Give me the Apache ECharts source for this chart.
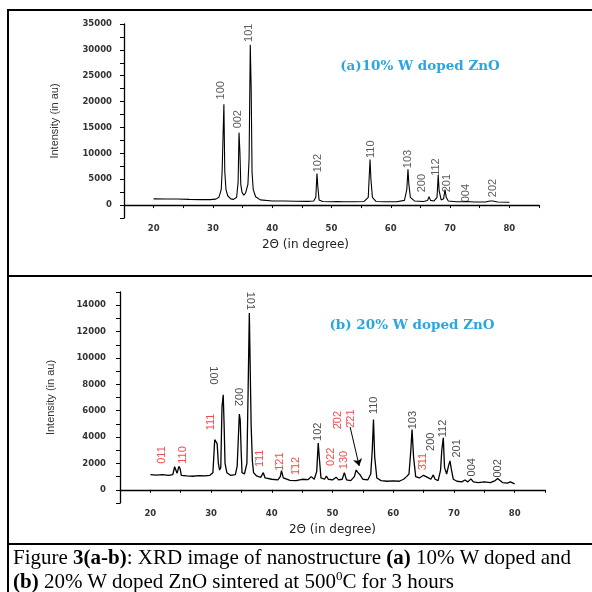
<!DOCTYPE html>
<html>
<head>
<meta charset="utf-8">
<script src="https://cdn.jsdelivr.net/npm/echarts@6/dist/echarts.min.js"></script>
<style>
    body { margin: 0; background: #fff; }
    #main { position: absolute; left: 0; top: 0; width: 592px; height: 592px; }
    #caption {
        position: absolute; left: 13px; top: 545px; width: 640px;
        font-family: 'Liberation Serif', 'Times New Roman', serif;
        font-size: 21px; line-height: 24px; color: #000; white-space: nowrap;
    }
    #caption sup { font-size: 13px; line-height: 0; }
</style>
</head>
<body>
<div id="main"></div>
<div id="caption">Figure <b>3(a-b)</b>: XRD image of nanostructure <b>(a)</b> 10% W doped and<br><b>(b)</b> 20% W doped ZnO sintered at 500<sup>0</sup>C for 3 hours</div>
<script>
// (a) 10% W 的衍射曲线：2θ 与强度
var anglesA = [20, 22, 24, 26, 28, 29.5, 30.5, 31.0, 31.4, 31.55, 31.7, 31.85, 32.0, 32.2, 32.5, 33.0, 33.5, 34.0,
    34.25, 34.4, 34.55, 34.7, 34.9, 35.2, 35.5, 35.9, 36.1, 36.3, 36.45, 36.6, 36.8, 37.2, 38, 40, 42, 44, 46,
    47.0, 47.35, 47.55, 47.7, 47.9, 48.5, 50, 51, 52, 54, 55.5, 56.2, 56.5, 56.65, 56.9, 57.5, 59, 61, 62.3,
    62.7, 62.9, 63.05, 63.3, 64, 65.5, 66.2, 66.45, 66.7, 67.3, 67.8, 68.0, 68.15, 68.5, 68.9, 69.15, 69.35,
    69.7, 71, 72.3, 72.6, 72.8, 74, 76, 76.7, 77.0, 77.2, 78, 80
];
var intensityA = [1200, 1180, 1170, 1100, 1050, 1050, 1150, 1500, 3000, 6500, 13000, 19500, 6500, 3000, 1800, 1200, 1100, 1500,
    4500, 14000, 10300, 4000, 2500, 1900, 2300, 4000, 9000, 31000, 22700, 6300, 3000, 1600, 1000, 800, 780, 750, 720,
    800, 1500, 6100, 3500, 1000, 700, 650, 700, 650, 650, 700, 1500, 8800, 5000, 1500, 700, 650, 650, 900,
    3000, 6900, 4000, 1500, 800, 700, 900, 1600, 900, 800, 1500, 5800, 2800, 1000, 1200, 3000, 1500,
    800, 650, 650, 950, 700, 600, 600, 800, 1100, 800, 600, 550
];

// (b) 20% W 的衍射曲线
var anglesB = [20, 21, 22, 23, 23.7, 24.0, 24.2, 24.4, 24.7, 24.9, 25.1, 26, 27, 28, 29, 29.8, 30.3, 30.6, 30.8, 31.0,
    31.2, 31.4, 31.6, 31.8, 32.0, 32.15, 32.3, 32.6, 33.2, 34.0, 34.3, 34.5, 34.65, 34.8, 34.95, 35.1, 35.5, 35.9,
    36.1, 36.3, 36.45, 36.6, 36.8, 37.0, 37.5, 38.2, 38.6, 38.9, 40, 41.0, 41.4, 41.6, 41.9, 43, 44, 45, 46, 46.5,
    47, 47.4, 47.65, 47.8, 48.1, 48.7, 49.0, 49.3, 50, 50.6, 51, 51.6, 51.95, 52.3, 53, 53.6, 53.9, 54.2, 54.6, 55,
    55.8, 56.3, 56.55, 56.75, 56.95, 57.3, 58, 59, 60, 61, 61.7, 62.2, 62.6, 62.9, 63.1, 63.35, 63.7, 64.3, 65.0,
    65.3, 65.8, 66.2, 66.6, 66.9, 67.4, 67.8, 68.0, 68.25, 68.45, 68.8, 69.1, 69.35, 69.6, 69.9, 70.5, 71.3, 71.8,
    72.3, 72.8, 73.2, 74, 75, 76, 76.8, 77.2, 77.6, 78, 78.8, 79.3, 79.6, 80
];
var intensityB = [1150, 1120, 1150, 1100, 1150, 1750, 1500, 1250, 1780, 1600, 1100, 1050, 1030, 1080, 1050, 1100, 1300, 3800, 3750, 3500,
    2000, 1500, 1700, 6300, 7200, 4900, 2000, 1300, 1100, 1150, 1800, 4000, 5750, 5300, 3000, 1300, 1200, 2000,
    7500, 13400, 13300, 4900, 2200, 1300, 1050, 950, 1300, 900, 800, 750, 1000, 1450, 900, 720, 700, 800, 780, 1000,
    800, 1400, 3550, 2600, 900, 800, 1050, 800, 750, 960, 750, 800, 1300, 750, 700, 1000, 1500, 1300, 1100, 800,
    750, 1200, 3000, 5330, 2500, 900, 700, 650, 680, 650, 800, 1000, 1200, 3000, 4570, 2500, 1000, 900, 1100,
    1130, 900, 800, 1130, 800, 700, 1500, 3000, 3940, 1700, 1200, 1800, 2190, 1500, 800, 650, 600, 750,
    600, 830, 600, 550, 600, 550, 700, 850, 700, 550, 500, 600, 500, 450
];

// 峰的晶面指数标注：名称、位置、高度
var peakNamesA = ['100', '002', '101', '102', '110', '103', '200', '112', '201', '004', '202'];
var peakAnglesA = [31.3, 34.3, 36.0, 47.7, 56.7, 62.95, 65.3, 67.7, 69.5, 72.7, 77.2];
var peakHeightsA = [22200, 16600, 33300, 8100, 10800, 8900, 4250, 7350, 4250, 2300, 3300];

var peakNamesB = ['100', '002', '101', '102', '110', '103', '200', '112', '201', '004', '002'];
var peakAnglesB = [30.36, 34.38, 36.4, 47.66, 56.84, 63.31, 66.23, 68.25, 70.46, 72.93, 77.31];
var peakHeightsB = [8670, 7040, 14330, 4400, 6410, 5280, 3640, 4650, 3140, 1710, 1630];

// WO3 的峰（红色）
var wo3Names = ['011', '110', '111', '1\u030411', '1\u030421', '1\u030412', '022', '130', '2\u030402', '2\u030421', '3\u030411'];
var wo3Angles = [21.86, 25.4, 29.98, 38.06, 41.35, 44.0, 49.7, 51.94, 50.95, 53.05, 64.96];
var wo3Heights = [2640, 2640, 5150, 2390, 2140, 1810, 2510, 2260, 5280, 5400, 2140];

// 刻度
var xTicks = [20, 30, 40, 50, 60, 70, 80];

var chart = echarts.init(document.getElementById('main'), null, { renderer: 'canvas' });

var zip = function(xs, ys) {
    return xs.map(function(x, i) {
        return [x, ys[i]];
    });
};

var labelItems = function(names, xs, ys) {
    return names.map(function(name, i) {
        return { name: name, value: [xs[i], ys[i]] };
    });
};

var narrowFont = 'Liberation Sans Narrow, Liberation Sans, sans-serif';

var tickFont = {
    fontFamily: 'DejaVu Sans',
    fontSize: 8.5,
    fontWeight: 'bold',
    color: '#333'
};

var makeXAxis = function(gridIndex, namePad) {
    return {
        gridIndex: gridIndex,
        type: 'value',
        min: 15,
        max: 85,
        interval: 5,
        name: '2\u0398 (in degree)',
        nameLocation: 'middle',
        nameGap: 21,
        nameTextStyle: {
            fontFamily: 'DejaVu Sans',
            fontSize: 12,
            color: '#222',
            padding: namePad
        },
        axisLine: { lineStyle: { color: '#000', width: 1.3 } },
        axisTick: { inside: false, length: 3, lineStyle: { color: '#000' } },
        splitLine: { show: false },
        axisLabel: Object.assign({
            margin: 6,
            showMinLabel: true,
            showMaxLabel: true,
            formatter: function(v) {
                return xTicks.indexOf(v) !== -1 ? String(v) : '';
            }
        }, tickFont)
    };
};

var makeYAxis = function(gridIndex, min, max, interval, step, margin) {
    return {
        gridIndex: gridIndex,
        type: 'value',
        min: min,
        max: max,
        interval: interval,
        name: 'Intensity (in au)',
        nameLocation: 'middle',
        nameGap: 64,
        nameTextStyle: {
            fontFamily: narrowFont,
            fontSize: 11,
            color: '#333'
        },
        axisLine: { show: true, lineStyle: { color: '#000', width: 1.3 } },
        axisTick: { show: true, inside: false, length: 4, lineStyle: { color: '#000' } },
        splitLine: { show: false },
        axisLabel: Object.assign({
            margin: margin,
            showMinLabel: true,
            showMaxLabel: true,
            formatter: function(v) {
                return (v >= 0 && v % step === 0) ? String(v) : '';
            }
        }, tickFont)
    };
};

var peakLabelSeries = function(index, names, xs, ys, color, rotate) {
    return {
        type: 'scatter',
        xAxisIndex: index,
        yAxisIndex: index,
        symbolSize: 0,
        silent: true,
        data: labelItems(names, xs, ys),
        label: {
            show: true,
            position: 'inside',
            formatter: '{b}',
            rotate: rotate,
            fontFamily: narrowFont,
            fontSize: 11,
            color: color
        }
    };
};

var titleStyle = {
    fontFamily: 'DejaVu Serif',
    fontWeight: 'bold',
    fontSize: 13.5,
    color: '#2ba6e0'
};

var option = {
    animation: false,
    backgroundColor: '#fff',
    title: [{
        text: '(a)10% W doped ZnO',
        left: 420,
        top: 59,
        textAlign: 'center',
        padding: 0,
        textStyle: titleStyle
    }, {
        text: '(b) 20% W doped ZnO',
        left: 412,
        top: 318,
        textAlign: 'center',
        padding: 0,
        textStyle: titleStyle
    }],
    grid: [{
        left: 124,
        top: 24,
        width: 415,
        height: 194
    }, {
        left: 120,
        top: 292,
        width: 425,
        height: 211
    }],
    xAxis: [makeXAxis(0, [0, 52, 0, 0]), makeXAxis(1, 0)],
    yAxis: [makeYAxis(0, -2500, 35000, 2500, 5000, 12), makeYAxis(1, -1000, 15000, 1000, 2000, 14)],
    graphic: [
        // 表格边框
        { type: 'rect', shape: { x: 7, y: 9, width: 600, height: 2 }, style: { fill: '#000' } },
        { type: 'rect', shape: { x: 7, y: 275, width: 600, height: 2 }, style: { fill: '#000' } },
        { type: 'rect', shape: { x: 7, y: 543, width: 600, height: 2 }, style: { fill: '#000' } },
        { type: 'rect', shape: { x: 7, y: 9, width: 2, height: 600 }, style: { fill: '#000' } }
    ],
    series: [{
        type: 'line',
        xAxisIndex: 0,
        yAxisIndex: 0,
        data: zip(anglesA, intensityA),
        showSymbol: false,
        symbol: 'none',
        lineStyle: { color: '#000', width: 1.1 }
    }, {
        type: 'line',
        xAxisIndex: 1,
        yAxisIndex: 1,
        data: zip(anglesB, intensityB),
        showSymbol: false,
        symbol: 'none',
        lineStyle: { color: '#000', width: 1.3 },
        markLine: {
            silent: true,
            symbol: ['none', 'arrow'],
            symbolSize: 7,
            label: { show: false },
            lineStyle: { color: '#000', width: 1, type: 'solid' },
            data: [[{ coord: [52.9, 4770] }, { coord: [54.4, 1810] }]]
        }
    },
        peakLabelSeries(0, peakNamesA, peakAnglesA, peakHeightsA, '#333', 90),
        peakLabelSeries(1, peakNamesB.slice(0, 3), peakAnglesB.slice(0, 3), peakHeightsB.slice(0, 3), '#222', -90),
        peakLabelSeries(1, peakNamesB.slice(3), peakAnglesB.slice(3), peakHeightsB.slice(3), '#222', 90),
        peakLabelSeries(1, wo3Names, wo3Angles, wo3Heights, '#f02020', 90)
    ]
};

chart.setOption(option);
</script>
</body>
</html>
